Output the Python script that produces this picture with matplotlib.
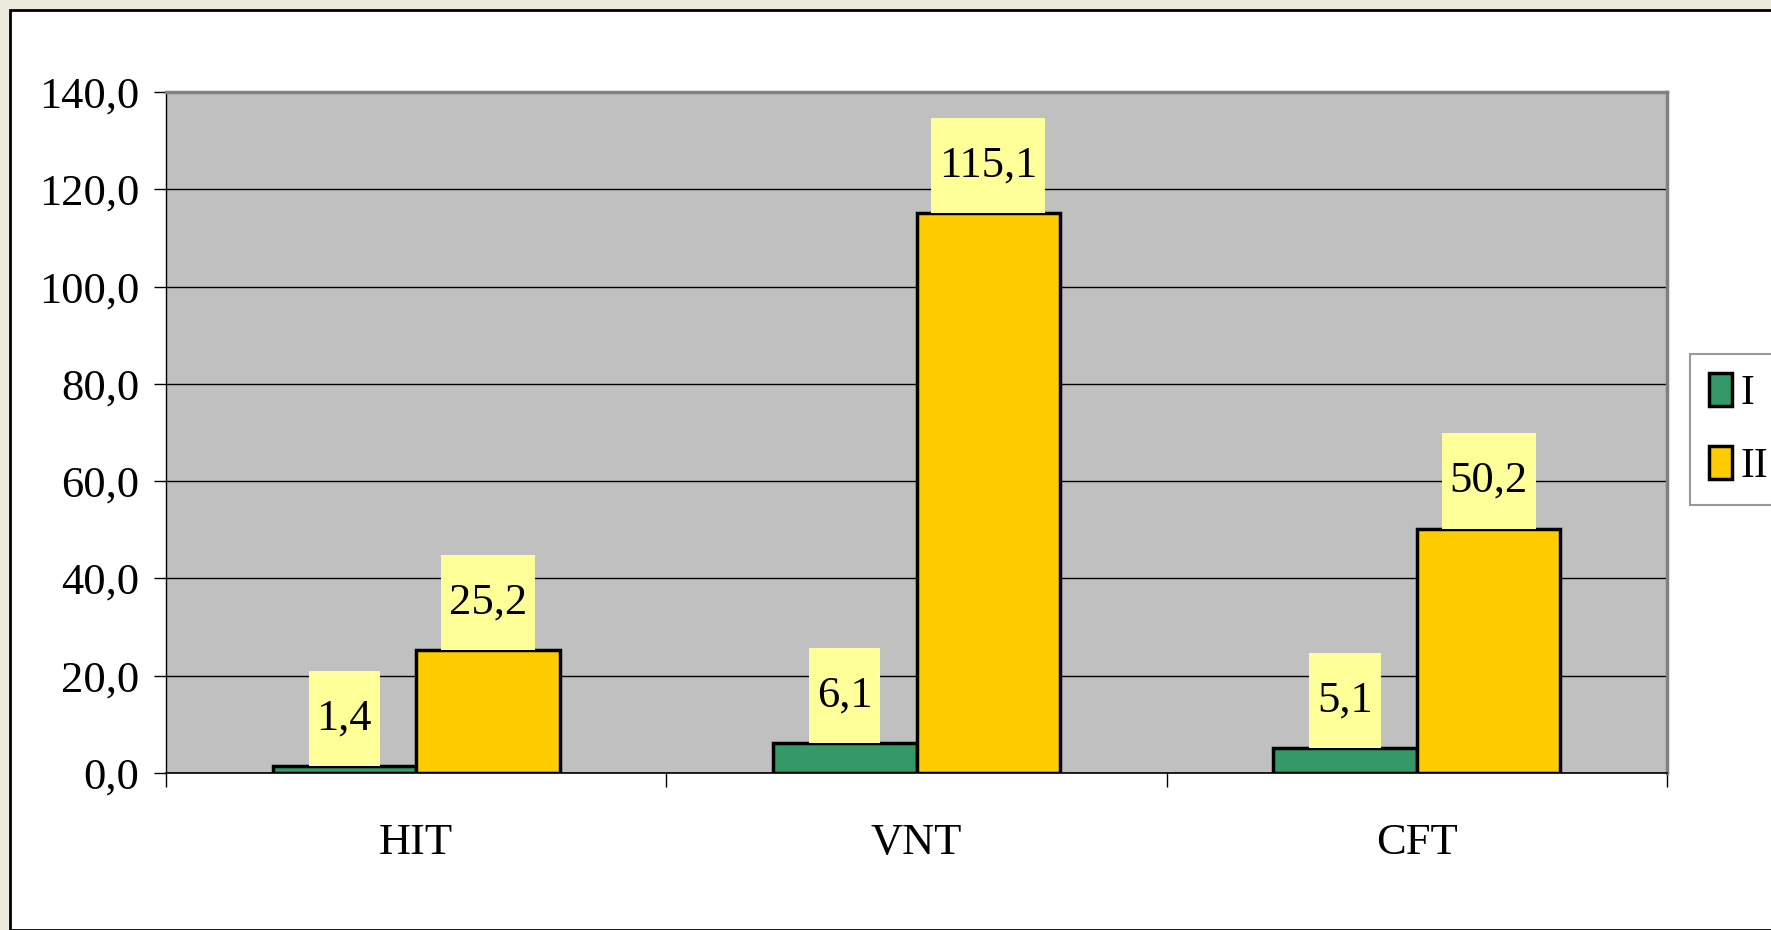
import numpy as np
import matplotlib
matplotlib.use("Agg")
import matplotlib.pyplot as plt
from matplotlib.patches import Rectangle
from matplotlib.path import Path

# data
categories = ["HIT", "VNT", "CFT"]
series_names = ["I", "II"]
values_I = [1.4, 6.1, 5.1]
values_II = [25.2, 115.1, 50.2]
y_ticks = [0, 20, 40, 60, 80, 100, 120, 140]

green = "#339966"
yellow = "#FFCC00"
label_bg = "#FFFF99"

plt.rcParams['font.family'] = ['Liberation Serif', 'DejaVu Serif']

W, H = 1771, 930
fig = plt.figure(figsize=(W / 100, H / 100), dpi=100, facecolor="#ECEBDB")

# white chart area with black frame
fig.patches.append(Rectangle((10 / W, 0), 1, 1 - 10 / H, transform=fig.transFigure,
                             facecolor="white", edgecolor="black", linewidth=2, zorder=-5))

ax = fig.add_axes([166 / W, 1 - 773 / H, (1667 - 166) / W, (773 - 92) / H])
ax.set_facecolor("#C0C0C0")

x = np.arange(len(categories))
w = 0.287
b1 = ax.bar(x - w / 2, values_I, w, color=green, edgecolor="black", linewidth=2.5, label=series_names[0], zorder=3)
b2 = ax.bar(x + w / 2, values_II, w, color=yellow, edgecolor="black", linewidth=2.5, label=series_names[1], zorder=3)

def fmt(v):
    return ("%.1f" % v).replace(".", ",")

# tall label box (excel style): small side padding, fixed height
def label_box(x0, y0, width, height, mutation_size):
    padx = 0.18 * mutation_size
    h = 2.15 * mutation_size
    cy = y0 + height / 2
    verts = [(x0 - padx, cy - h / 2), (x0 + width + padx, cy - h / 2),
             (x0 + width + padx, cy + h / 2), (x0 - padx, cy + h / 2), (x0 - padx, cy - h / 2)]
    return Path(verts, closed=True)

fs = 32
for bars, vals in [(b1, values_I), (b2, values_II)]:
    for rect, v in zip(bars, vals):
        ax.annotate(fmt(v), (rect.get_x() + rect.get_width() / 2, rect.get_height()),
                    xytext=(0, 1.075 * fs), textcoords="offset points", ha="center", va="center",
                    fontsize=fs, zorder=5,
                    bbox=dict(boxstyle=label_box, facecolor=label_bg, edgecolor="none"))

ax.set_ylim(0, 140)
ax.set_xlim(-0.5, len(categories) - 0.5)
ax.set_yticks(y_ticks)
ax.set_yticklabels([fmt(v) for v in y_ticks], fontsize=fs)
ax.yaxis.grid(True, color="black", linewidth=1)
ax.set_axisbelow(True)
ax.tick_params(axis="y", length=9, width=1, pad=10)

ax.set_xticks(np.arange(len(categories) + 1) - 0.5)
ax.set_xticklabels([])
ax.tick_params(axis="x", which="major", length=10, width=1)
ax.set_xticks(x, minor=True)
ax.set_xticklabels(categories, minor=True, fontsize=fs)
ax.tick_params(axis="x", which="minor", length=0, pad=36)

for s in ["top", "right"]:
    ax.spines[s].set_color("#808080")
    ax.spines[s].set_linewidth(2.5)
ax.spines["left"].set_color("black")
ax.spines["bottom"].set_color("black")
ax.spines["left"].set_linewidth(1)
ax.spines["bottom"].set_linewidth(1.2)

leg = fig.legend(handles=[b1, b2], labels=series_names, loc="upper left",
                 bbox_to_anchor=(1690 / W, 1 - 354 / H), fontsize=30, frameon=True,
                 fancybox=False, edgecolor="#808080", handlelength=0.55, handleheight=0.85,
                 handletextpad=0.2, labelspacing=0.8, borderpad=0.45, borderaxespad=0)
leg.get_frame().set_linewidth(1.5)

fig.savefig("out.png", dpi=100, facecolor=fig.get_facecolor())
